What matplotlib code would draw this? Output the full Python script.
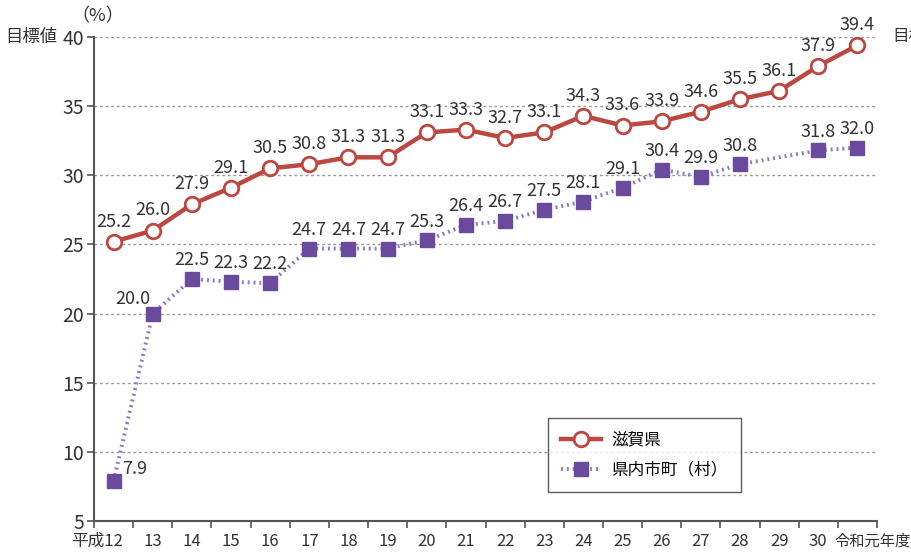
import matplotlib
matplotlib.use('Agg')
import matplotlib.pyplot as plt
import numpy as np

plt.rcParams['font.family'] = ['Noto Sans CJK JP', 'DejaVu Sans']

# data
years = ["平成12", "13", "14", "15", "16", "17", "18", "19", "20", "21",
         "22", "23", "24", "25", "26", "27", "28", "29", "30", "令和元年度"]
shiga = [25.2, 26.0, 27.9, 29.1, 30.5, 30.8, 31.3, 31.3, 33.1, 33.3,
         32.7, 33.1, 34.3, 33.6, 33.9, 34.6, 35.5, 36.1, 37.9, 39.4]
# 29 has no value for the municipalities
towns = [7.9, 20.0, 22.5, 22.3, 22.2, 24.7, 24.7, 24.7, 25.3, 26.4,
         26.7, 27.5, 28.1, 29.1, 30.4, 29.9, 30.8, np.nan, 31.8, 32.0]

red = '#bd4741'
purple = '#6a4a9c'
lpurple = '#8c7ac4'
txt = '#333333'

fig = plt.figure(figsize=(9.11, 5.56), dpi=100)
ax = fig.add_axes([94/911, 35/556, 783/911, 484/556])

x = np.arange(len(years)) + 0.5
t = np.array(towns)
ok = ~np.isnan(t)

ax.plot(x[ok], t[ok], linestyle=(0, (0.5, 1.0)), color=lpurple, lw=2.8,
        marker='s', ms=10, mfc=purple, mec=purple, label='県内市町（村）', zorder=3)
ax.plot(x, shiga, color=red, lw=3.2, marker='o', ms=10.5, mfc='white',
        mec=red, mew=2, label='滋賀県', zorder=4)

for xi, v in zip(x, shiga):
    ax.annotate(f"{v:.1f}", (xi, v), xytext=(0, 8), textcoords='offset points',
                ha='center', va='bottom', fontsize=13, color=txt)

offs = {0: (15, 2), 1: (-14, 4)}
for i, (xi, v) in enumerate(zip(x, towns)):
    if np.isnan(v):
        continue
    dx, dy = offs.get(i, (0, 7))
    ax.annotate(f"{v:.1f}", (xi, v), xytext=(dx, dy), textcoords='offset points',
                ha='center', va='bottom', fontsize=13, color=txt)

ax.set_xlim(0, 20)
ax.set_ylim(5, 40)
ax.set_xticks(np.arange(0, 21))
ax.set_xticklabels([])
ax.set_yticks(np.arange(5, 41, 5))
ax.set_yticklabels([str(v) for v in range(5, 41, 5)], fontsize=14, color=txt)
ax.tick_params(axis='both', direction='out', length=5, width=1.2, color='#555555', pad=2)

for yv in range(10, 41, 5):
    ax.axhline(yv, color='#999999', lw=1, ls=(0, (2, 2)), zorder=1)

for s in ['top', 'right']:
    ax.spines[s].set_visible(False)
for s in ['left', 'bottom']:
    ax.spines[s].set_color('#555555')
    ax.spines[s].set_linewidth(1.5)

xt = ax.get_xaxis_transform()
for i, lab in enumerate(years):
    if i == 0:
        ax.text(0.75, -0.025, lab, transform=xt, ha='right', va='top',
                fontsize=12, color=txt)
    elif i == len(years) - 1:
        ax.text(18.92, -0.025, lab, transform=xt, ha='left', va='top',
                fontsize=11, color=txt)
    else:
        ax.text(x[i], -0.025, lab, transform=xt, ha='center', va='top',
                fontsize=12, color=txt)

fig.text(5/911, 1 - 37/556, '目標値', ha='left', va='center', fontsize=12.5, color=txt)
fig.text(892/911, 1 - 37/556, '目標値', ha='left', va='center', fontsize=12, color=txt)
fig.text(98/911, 1 - 16/556, '（%）', ha='center', va='center', fontsize=13, color=txt)

h, l = ax.get_legend_handles_labels()
leg = ax.legend([h[1], h[0]], [l[1], l[0]], loc='upper left',
                bbox_to_anchor=((548 - 94) / 783, (521 - 418) / 484),
                borderaxespad=0, fontsize=12, frameon=True, fancybox=False,
                edgecolor='#333333', handlelength=2.4, handletextpad=0.6,
                borderpad=0.8, labelspacing=0.8)
leg.get_frame().set_linewidth(1)

fig.savefig('out.png', dpi=100)
